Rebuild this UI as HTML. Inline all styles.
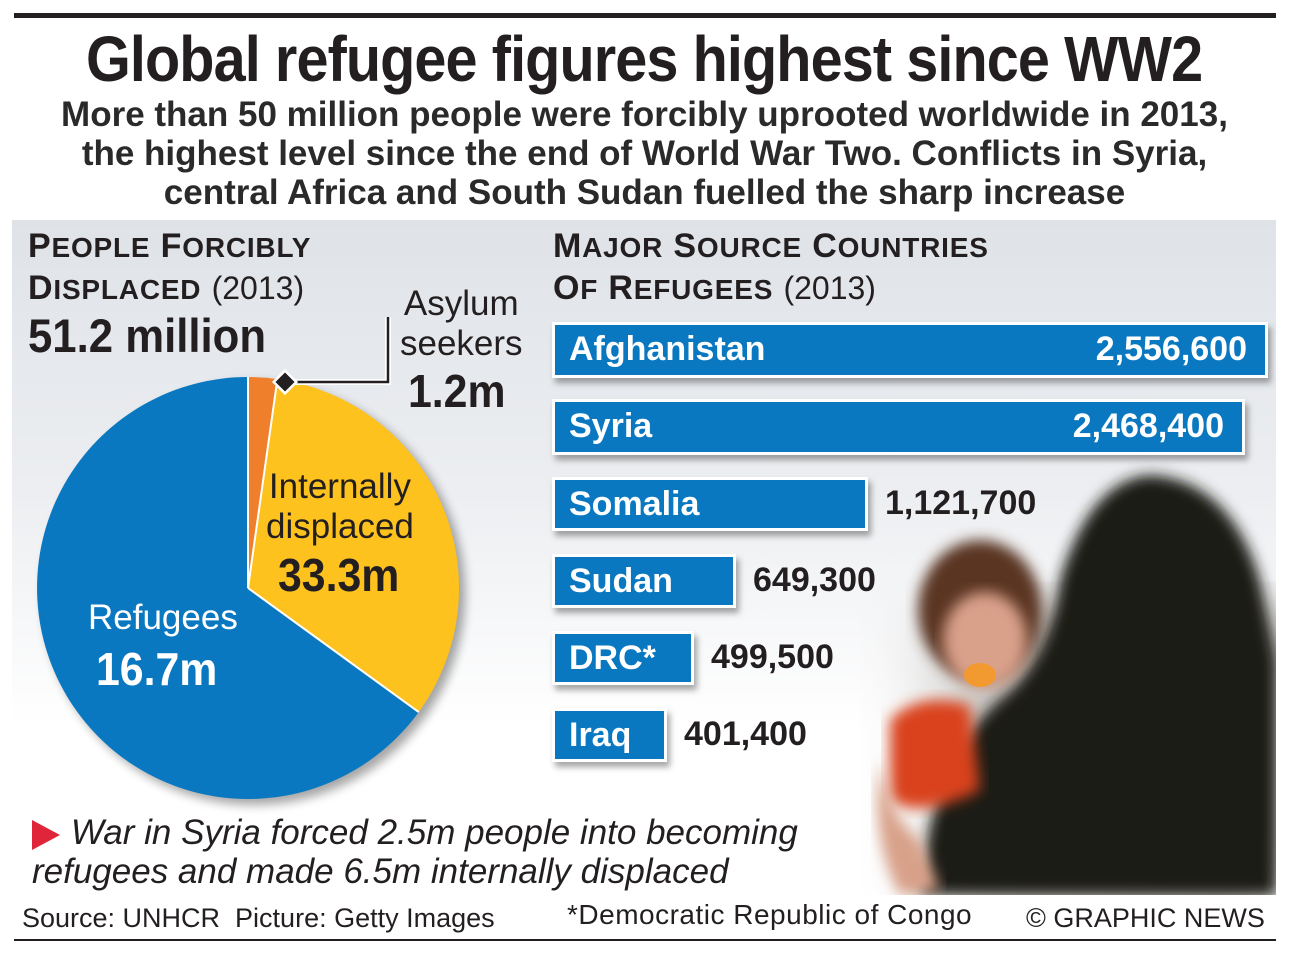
<!DOCTYPE html>
<html><head><meta charset="utf-8"><style>
*{margin:0;padding:0;box-sizing:border-box}
body{width:1289px;height:954px;background:#fff;position:relative;overflow:hidden;font-family:"Liberation Sans",sans-serif;color:#231f20}
.a{position:absolute;white-space:nowrap}
.bar{position:absolute;left:552px;background:#0a78c0;border:3px solid #fff;box-shadow:3px 5px 6px rgba(0,0,0,.35);color:#fff;font-weight:bold;font-size:34px;line-height:48px;padding-left:14px}
.bar span{position:absolute;right:18px;top:0}
.val{position:absolute;font-weight:bold;font-size:34px;color:#231f20}
.cond{display:inline-block;transform:scaleX(.93);transform-origin:left}
.sc{font-size:28px}
</style></head><body>
<div class="a" style="left:14px;top:13px;width:1262px;height:5px;background:#231f20"></div>
<div class="a" style="left:0;width:1289px;top:22px;text-align:center;font-size:64px;font-weight:bold;letter-spacing:-1px"><span style="display:inline-block;transform:scaleX(.9)">Global refugee figures highest since WW2</span></div>
<div class="a" style="left:0;width:1289px;top:95px;text-align:center;font-size:35px;font-weight:bold;line-height:39px;color:#2a2a2a">More than 50 million people were forcibly uprooted worldwide in 2013,<br>the highest level since the end of World War Two. Conflicts in Syria,<br>central Africa and South Sudan fuelled the sharp increase</div>
<div class="a" style="left:12px;top:220px;width:1264px;height:675px;background:linear-gradient(#dfe3e8,#eceef1 40%,#fff 75%)"></div>
<svg class="a" style="left:860px;top:460px" width="416" height="435">
<defs><filter id="b"><feGaussianBlur stdDeviation="7"/></filter><filter id="b2"><feGaussianBlur stdDeviation="25"/></filter>
<linearGradient id="g" x1="0" x2="1"><stop offset="0" stop-color="#fff" stop-opacity="0"/><stop offset=".3" stop-color="#9a9590" stop-opacity=".6"/><stop offset="1" stop-color="#8a8580"/></linearGradient></defs>
<rect x="0" y="150" width="416" height="285" fill="url(#g)" filter="url(#b2)"/>
<path d="M200 120 Q230 20 290 15 Q370 20 400 120 L416 200 L416 435 L60 435 Q70 300 140 240 Q190 200 200 120Z" fill="#1c1a19" filter="url(#b)"/>
<ellipse cx="120" cy="150" rx="62" ry="70" fill="#5a3424" filter="url(#b)"/>
<ellipse cx="125" cy="180" rx="42" ry="48" fill="#d9a08a" filter="url(#b)"/>
<ellipse cx="120" cy="215" rx="16" ry="12" fill="#f29a30"/>
<path d="M30 260 Q60 230 110 245 L120 330 Q60 360 30 340Z" fill="#d9431e" filter="url(#b)"/>
<path d="M20 300 Q30 360 60 380 L80 430 L40 435 Q10 380 20 300Z" fill="#d8a088" filter="url(#b)"/>
</svg>
<div class="a" style="left:28px;top:226px;font-size:34px;font-weight:bold;line-height:40px;letter-spacing:.8px">P<span class="sc">EOPLE</span> F<span class="sc">ORCIBLY</span><br>D<span class="sc">ISPLACED</span> <span style="font-weight:normal;font-size:32px;letter-spacing:0">(2013)</span></div>
<div class="a" style="left:28px;top:308px;font-size:47px;font-weight:bold"><span class="cond">51.2 million</span></div>
<div class="a" style="left:553px;top:226px;font-size:34px;font-weight:bold;line-height:40px;letter-spacing:.8px">M<span class="sc">AJOR</span> S<span class="sc">OURCE</span> C<span class="sc">OUNTRIES</span><br>O<span class="sc">F</span> R<span class="sc">EFUGEES</span> <span style="font-weight:normal;font-size:32px;letter-spacing:0">(2013)</span></div>
<div class="a" style="left:400px;top:284px;font-size:35px;line-height:40px;text-align:center">Asylum<br>seekers</div>
<div class="a" style="left:408px;top:364px;font-size:46px;font-weight:bold"><span class="cond">1.2m</span></div>
<svg class="a" style="left:0;top:300px" width="560" height="520">
<defs><filter id="s"><feGaussianBlur stdDeviation="5"/></filter></defs>
<circle cx="254" cy="294" r="211" fill="#000" opacity=".35" filter="url(#s)"/>
<path d="M248 288 L248 77 A211 211 0 0 1 277.4 79.1Z" fill="#f07f2c"/>
<path d="M248 288 L277.4 79.1 A211 211 0 0 1 418.7 412.1Z" fill="#fdc21e"/>
<path d="M248 288 L418.7 412.1 A211 211 0 1 1 248 77Z" fill="#0a78c0"/>
<path d="M248 288 L248 77 M248 288 L277.4 79.1 M248 288 L418.7 412.1" stroke="#fff" stroke-width="2"/>
<path d="M285 82 L388 82 L388 17" stroke="#fff" stroke-width="6" fill="none"/>
<path d="M285 82 L388 82 L388 17" stroke="#231f20" stroke-width="2.5" fill="none"/>
<rect x="277" y="74" width="16" height="16" transform="rotate(45 285 82)" fill="#231f20" stroke="#fff" stroke-width="2.5"/>
</svg>
<div class="a" style="left:266px;top:467px;font-size:35px;line-height:40px;text-align:center">Internally<br>displaced</div>
<div class="a" style="left:278px;top:548px;font-size:46px;font-weight:bold"><span class="cond">33.3m</span></div>
<div class="a" style="left:88px;top:598px;font-size:35px;color:#fff">Refugees</div>
<div class="a" style="left:96px;top:642px;font-size:46px;font-weight:bold;color:#fff"><span class="cond">16.7m</span></div>
<div class="bar" style="top:322px;width:716px;height:56px">Afghanistan<span>2,556,600</span></div>
<div class="bar" style="top:399px;width:693px;height:56px">Syria<span>2,468,400</span></div>
<div class="bar" style="top:477px;width:316px;height:54px">Somalia</div>
<div class="val" style="left:885px;top:484px">1,121,700</div>
<div class="bar" style="top:554px;width:184px;height:54px">Sudan</div>
<div class="val" style="left:753px;top:561px">649,300</div>
<div class="bar" style="top:631px;width:142px;height:54px">DRC*</div>
<div class="val" style="left:711px;top:638px">499,500</div>
<div class="bar" style="top:708px;width:115px;height:54px">Iraq</div>
<div class="val" style="left:684px;top:715px">401,400</div>
<svg class="a" style="left:32px;top:820px" width="30" height="30"><path d="M0 0 L28 15 L0 30Z" fill="#e0243a"/></svg>
<div class="a" style="left:32px;top:813px;font-size:35px;font-style:italic;line-height:39px">&nbsp;&nbsp;&nbsp;&nbsp;War in Syria forced 2.5m people into becoming<br>refugees and made 6.5m internally displaced</div>
<div class="a" style="left:22px;top:903px;font-size:27px">Source: UNHCR&nbsp; Picture: Getty Images</div>
<div class="a" style="left:567px;top:899px;font-size:28px;letter-spacing:.5px">*Democratic Republic of Congo</div>
<div class="a" style="left:1026px;top:903px;font-size:27px">© GRAPHIC NEWS</div>
<div class="a" style="left:14px;top:939px;width:1262px;height:2px;background:#231f20"></div>
</body></html>
